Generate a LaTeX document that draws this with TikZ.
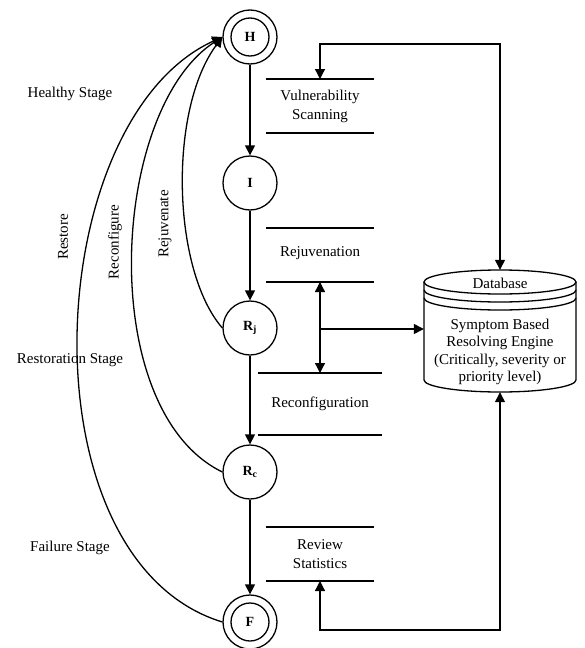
\documentclass[tikz,border=0pt]{standalone}
\usepackage{fontspec}
\setmainfont{Liberation Serif}
\usetikzlibrary{arrows.meta,calc}
\begin{document}
\begin{tikzpicture}[x=1pt,y=-1pt,
  every node/.style={font=\fontsize{15}{18}\selectfont},
  st/.style={circle,draw,line width=1.3pt,minimum size=54pt,inner sep=0pt,font=\fontsize{14}{15}\selectfont\bfseries},
  lw/.style={line width=1.3pt},
  arr/.style={lw,-{Triangle[length=10pt,width=10pt]}},
  darr/.style={lw,{Triangle[length=10pt,width=10pt]}-{Triangle[length=10pt,width=10pt]}},
  bar/.style={line width=1.1pt},
  lbl/.style={font=\fontsize{15}{19}\selectfont,align=center}]
\useasboundingbox (0,0) rectangle (585,648);

% state nodes
\node[st] (H) at (250,37) {H};
\draw[lw] (H.center) circle (19pt);
\node[st] (I) at (250,183) {I};
\node[st] (Rj) at (250,328) {R\textsubscript{j}};
\node[st] (Rc) at (250,472) {R\textsubscript{c}};
\node[st] (F) at (250,622) {F};
\draw[lw] (F.center) circle (19pt);

\draw[arr] (H) -- (I);
\draw[arr] (I) -- (Rj);
\draw[arr] (Rj) -- (Rc);
\draw[arr] (Rc) -- (F);

% return curves
\draw[arr] (Rj.west) .. controls (172,270) and (168,110) .. (H.west);
\draw[arr] (Rc.west) .. controls (95,410) and (110,110) .. (H.west);
\draw[arr] (F.west) .. controls (20,560) and (40,120) .. (H.west);

\node[rotate=90] (lrs) at (63,237) {Restore};
\node[rotate=90] (lrc) at (115,242) {Reconfigure};
\node[rotate=90] (lrj) at (165,224) {Rejuvenate};

\node (hs) at (70,94) {Healthy Stage};
\node (rs) at (70,360) {Restoration Stage};
\node (fs) at (70,548) {Failure Stage};

% bars
\coordinate (v1l) at (266,79); \coordinate (v1r) at (374,79);
\coordinate (v2l) at (266,133); \coordinate (v2r) at (374,133);
\draw[bar] (v1l) -- (v1r); \draw[bar] (v2l) -- (v2r);
\node[lbl] (vs) at (320,106) {Vulnerability\\Scanning};

\coordinate (j1l) at (266,228); \coordinate (j1r) at (374,228);
\coordinate (j2l) at (266,282); \coordinate (j2r) at (374,282);
\draw[bar] (j1l) -- (j1r); \draw[bar] (j2l) -- (j2r);
\node[lbl] (rjv) at (320,253) {Rejuvenation};

\coordinate (c1l) at (258,373); \coordinate (c1r) at (382,373);
\coordinate (c2l) at (258,435); \coordinate (c2r) at (382,435);
\draw[bar] (c1l) -- (c1r); \draw[bar] (c2l) -- (c2r);
\node[lbl] (rcf) at (320,404) {Reconfiguration};

\coordinate (s1l) at (266,527); \coordinate (s1r) at (374,527);
\coordinate (s2l) at (266,581); \coordinate (s2r) at (374,581);
\draw[bar] (s1l) -- (s1r); \draw[bar] (s2l) -- (s2r);
\node[lbl] (rvs) at (320,554) {Review\\Statistics};

% database cylinder
\node[minimum width=152pt,minimum height=122pt,inner sep=0pt] (db) at (500,331) {};
\draw[lw] (424,282) -- (424,380) arc (180:360:76pt and 12pt) -- (576,282);
\draw[lw] (500,282) ellipse (76pt and 12pt);
\draw[lw] (424,290) arc (180:360:76pt and 12pt);
\draw[lw] (424,298) arc (180:360:76pt and 12pt);
\node (dbt) at (500,283) {Database};
\node[font=\fontsize{15}{17.5}\selectfont,align=center] (dbx) at (500,352) {Symptom Based\\Resolving Engine\\(Critically, severity or\\priority level)};

% connectors to database
\coordinate (vt) at (320,79);
\coordinate (ct) at (500,44);
\draw[darr] (db.north) -- (ct) -| (vt);

\coordinate (jb) at (320,282);
\coordinate (ct2) at (320,373);
\coordinate (mid) at (320,329);
\draw[darr] (jb) -- (ct2);
\draw[arr] (mid) -- (mid -| db.west);

\coordinate (sb) at (320,581);
\coordinate (cb) at (500,630);
\draw[darr] (sb) |- (cb) -- (db.south);
\end{tikzpicture}
\end{document}
